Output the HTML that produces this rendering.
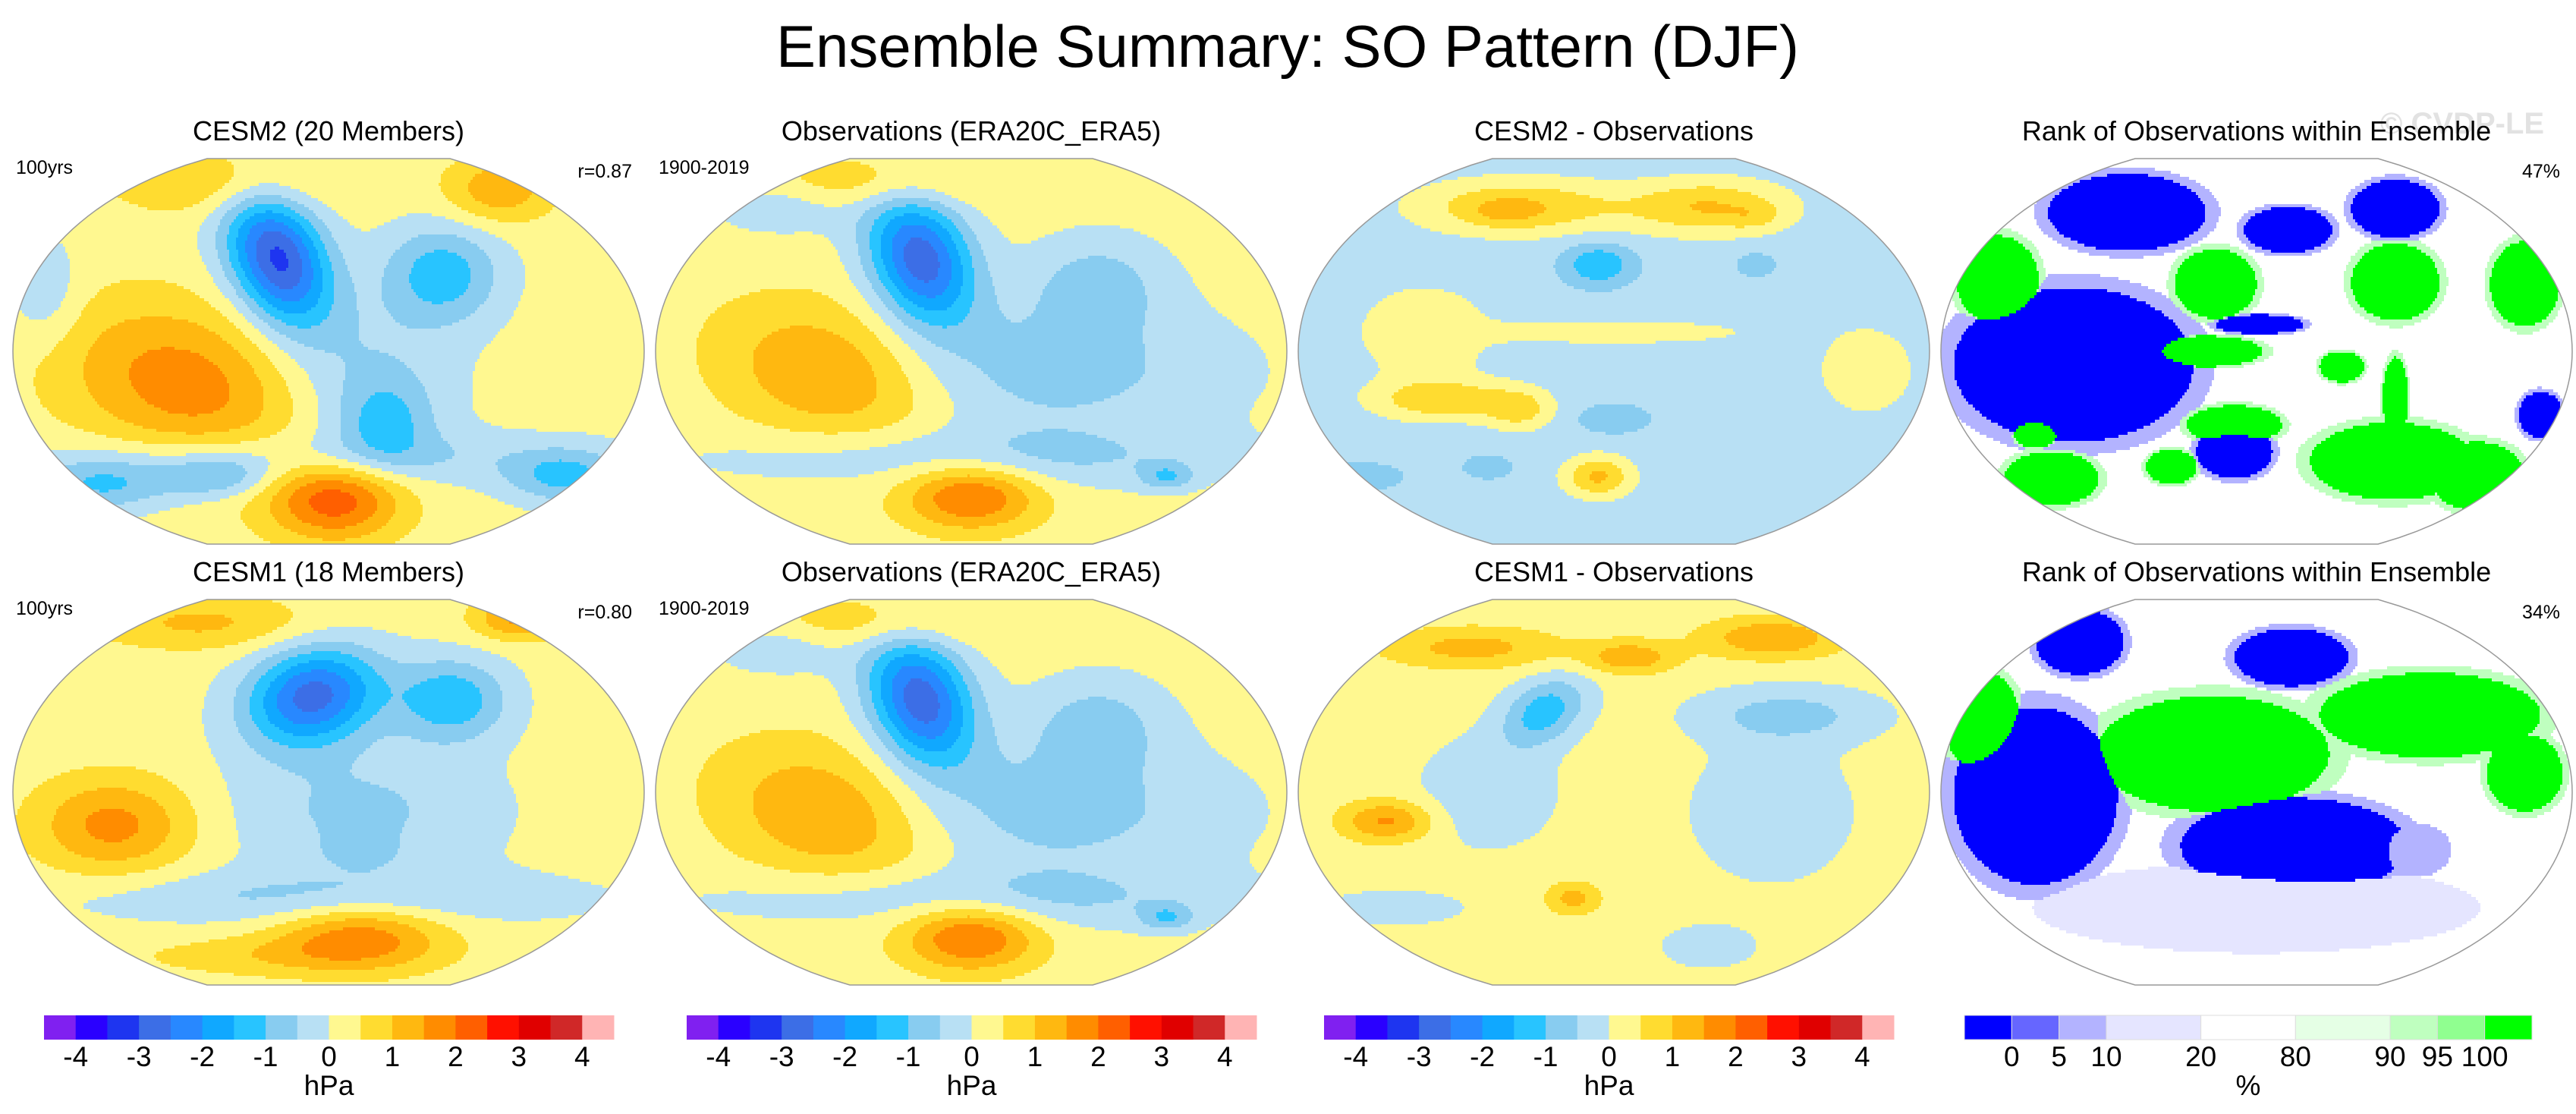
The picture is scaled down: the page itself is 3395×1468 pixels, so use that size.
<!DOCTYPE html>
<html><head><meta charset="utf-8">
<style>
html,body{margin:0;padding:0;background:#fff;}
svg{display:block;font-family:"Liberation Sans",sans-serif;}
</style></head>
<body>
<svg id="fig" width="3395" height="1468" viewBox="0 0 3395 1468" xmlns="http://www.w3.org/2000/svg">
<rect width="3395" height="1468" fill="#fff"/>
<text x="1697" y="88" font-size="78" text-anchor="middle" fill="#000">Ensemble Summary: SO Pattern (DJF)</text>
<text x="3245" y="176" font-size="40" font-weight="bold" text-anchor="middle" fill="#e2e2e2">© CVDP-LE</text>
<g id="maps"></g>
<g id="bars"></g>
</svg>
<script>
// ---- data ----
const divColors=["#8020f0","#2a00ff","#1e35f0","#3c6ee6","#2888ff","#10a8ff","#28c4ff","#88ccf0","#b8e0f4","#fff890","#ffdc30","#ffb810","#ff8c00","#ff5f00","#ff1000","#e00000","#d02828","#ffb4b4"];
const divTicks=["-4","-3","-2","-1","0","1","2","3","4"];
const rankColors=["#0000ff","#6666ff","#b3b3ff","#e5e5ff","#ffffff","#e5ffe5","#bfffbf","#90ff90","#00ff00"];
const rankTicks=["0","5","10","20","80","90","95","100"];
const rankWidths=[1,1,1,2,2,2,1,1,1];
const panelTitles=["CESM2 (20 Members)","Observations (ERA20C_ERA5)","CESM2 - Observations","Rank of Observations within Ensemble","CESM1 (18 Members)","Observations (ERA20C_ERA5)","CESM1 - Observations","Rank of Observations within Ensemble"];
const leftLabels=["100yrs","1900-2019","","","100yrs","1900-2019","",""];
const rightLabels=["r=0.87","","","47%","r=0.80","","","34%"];
const panelBase=[0.2,0.2,-0.3,null,0.2,0.2,0.2,null];
// anomaly centres: [u, v, rx, ry, rotation(deg), peak value hPa] in map projection space
const blobsCESM2=[[0,-.55,1.1,.2,0,-0.7],[.1,-.17,.42,.6,0,-0.8],[-.9,.31,.16,.4,0,-0.7],[-.35,.88,.47,.24,0,0.9],[.54,.84,.24,.24,0,1.2],[-.45,-.17,.58,.56,15,1.6],[-.16,.48,.21,.52,-25,-3.3],[.36,.40,.26,.36,0,-1.5],[.18,-.37,.2,.3,0,-1.0],[-.71,-.69,.32,.2,0,-1.3],[-.35,-.65,.24,.16,0,-1.2],[.75,-.65,.26,.2,0,-1.3],[.02,-.77,.3,.3,0,2.1]];
const blobsObs=[[.25,-.1,.8,.5,0,-0.9],[0,-.55,1.1,.22,0,-0.8],[-.6,.75,.3,.2,0,-0.6],[.4,.35,.3,.35,0,-0.9],[-.45,-.12,.5,.5,15,1.4],[-.3,.88,.5,.2,0,0.8],[-.16,.48,.22,.5,-25,-3.0],[0,-.75,.3,.25,0,1.9],[.62,-.65,.12,.1,0,-1.0]];
const blobsDiff2=[[-.3,.75,.45,.2,0,1.3],[.3,.75,.35,.2,0,1.3],[-.35,.72,.15,.1,0,0.4],[.45,.7,.12,.1,0,0.4],[0,.1,.55,.08,0,0.8],[-.6,.1,.3,.35,0,0.7],[.8,-.1,.2,.3,0,0.8],[-.55,-.25,.3,.15,0,1.2],[-.3,-.3,.15,.15,0,1.0],[-.05,-.65,.15,.15,0,1.4],[-.05,.45,.15,.15,0,-1.2],[.45,.45,.08,.08,0,-0.7],[0,-.35,.15,.1,0,-0.7],[-.4,-.6,.1,.08,0,-0.7],[-.8,-.65,.18,.1,0,-0.6]];
const blobsCESM1=[[0,-.55,1.1,.2,0,-0.8],[.1,-.1,.6,.5,0,-0.8],[-.4,.88,.5,.2,0,0.9],[.6,.9,.2,.15,0,1.4],[-.68,-.17,.35,.35,0,1.5],[-.05,.5,.3,.35,-15,-2.9],[.39,.48,.25,.3,0,-1.6],[.1,-.3,.15,.12,0,-0.5],[.1,-.74,.38,.25,0,1.6],[-.2,-.85,.6,.15,0,0.6]];
const blobsDiff1=[[-.4,0,.3,.4,0,-0.6],[.5,-.1,.35,.5,0,-0.6],[.3,-.8,.2,.15,0,-0.6],[-.7,-.6,.3,.12,0,-0.6],[-.45,.75,.4,.15,0,1.0],[.05,.7,.2,.12,0,1.2],[.5,.8,.3,.15,0,1.3],[.55,.4,.4,.2,0,-0.9],[-.22,.42,.2,.22,-30,-1.5],[-.72,-.15,.2,.15,0,1.4],[-.13,-.55,.12,.12,0,1.0]];
// rank patches: [u, v, rx, ry, category index]
const rank1=[[-.58,-.07,.38,.4,0],[-.41,.72,.25,.2,0],[.1,.63,.14,.12,0],[.44,.74,.14,.15,0],[-.07,-.52,.12,.14,0],[.01,.14,.14,.05,0],[.9,-.33,.07,.12,0],[-.82,.37,.13,.23,8],[-.13,.35,.13,.18,8],[-.16,0,.18,.08,8],[-.07,-.38,.15,.1,8],[.27,-.08,.07,.08,8],[.44,.36,.14,.2,8],[.85,.35,.11,.22,8],[.43,-.57,.26,.2,8],[.44,-.25,.04,.22,8],[-.65,-.66,.15,.14,8],[-.27,-.6,.08,.09,8],[-.7,-.43,.07,.07,8],[.7,-.65,.15,.18,8]];
const rank2=[[0,-.6,.6,.2,3],[-.14,.2,.37,.3,8],[-.87,.37,.12,.26,8],[.55,.4,.35,.22,8],[.85,.1,.12,.2,8],[-.7,-.02,.26,.46,0],[.12,-.28,.36,.25,0],[-.56,.78,.14,.17,0],[.11,.7,.18,.15,0],[.5,-.3,.1,.12,2]];
const panelData=[blobsCESM2,blobsObs,blobsDiff2,rank1,blobsCESM1,blobsObs,blobsDiff1,rank2];
// ---- layout ----
const colCX=[433,1280,2127,2974], rowCY=[463,1044], HW=416, HH=254, CUT=0.923;
const NS="http://www.w3.org/2000/svg";
function mk(tag,at,parent){const e=document.createElementNS(NS,tag);for(const k in at)e.setAttribute(k,at[k]);parent.appendChild(e);return e;}
function xs(cx,u){return cx+u*HW;}
function ys(cy,v){return cy-v*HH;}
function outline(cx,cy){
  const p=[];const N=60;
  for(let i=0;i<=N;i++){const v=-1+2*i/N;const w=Math.sqrt(1-(v*CUT)*(v*CUT));p.push([xs(cx,w),ys(cy,v)]);}
  for(let i=N;i>=0;i--){const v=-1+2*i/N;const w=Math.sqrt(1-(v*CUT)*(v*CUT));p.push([xs(cx,-w),ys(cy,v)]);}
  return "M"+p.map(q=>q[0].toFixed(1)+","+q[1].toFixed(1)).join("L")+"Z";}
function colorIndex(val){if(val>=0)return Math.min(17,9+Math.floor(val/0.5));return Math.max(0,8-Math.floor(-val/0.5));}
function dist2(b,u,v){const a=(b[4]||0)*Math.PI/180;const dx=(u-b[0])*HW,dy=-(v-b[1])*HH;
  const lx=dx*Math.cos(a)+dy*Math.sin(a), ly=-dx*Math.sin(a)+dy*Math.cos(a);
  return (lx/(b[2]*HW))**2+(ly/(b[3]*HH))**2;}
function fieldAt(p,u,v){let s=panelBase[p];for(const b of panelData[p])s+=b[5]*Math.exp(-2*dist2(b,u,v));return s;}
function rankAt(p,u,v){let best=4,bd=1e9;
  for(const b of panelData[p]){const d=Math.sqrt(dist2([b[0],b[1],b[2],b[3],0],u,v));
    if(d<1.18&&d<bd){bd=d;best=d<1?b[4]:(b[4]===0?2:(b[4]===8?6:b[4]));}}
  return best;}
const maps=document.getElementById('maps');
const defs=mk('defs',{},maps);
const CW=3, RH=4;
for(let p=0;p<8;p++){
  const cx=colCX[p%4], cy=rowCY[Math.floor(p/4)];
  const d=outline(cx,cy);
  const cp=mk('clipPath',{id:'clip'+p},defs);
  mk('path',{d:d},cp);
  const g=mk('g',{'clip-path':'url(#clip'+p+')'},maps);
  
  
  const isRank=panelBase[p]===null;
  const pal=isRank?rankColors:divColors;
  for(let y=cy-HH;y<cy+HH;y+=RH){
    const v=(cy-(y+RH/2))/HH;
    let runStart=null,runC=-1;
    for(let x=cx-HW;x<=cx+HW+CW;x+=CW){
      let c=-2;
      if(x<cx+HW){const u=(x+CW/2-cx)/HW;c=isRank?rankAt(p,u,v):colorIndex(fieldAt(p,u,v));}
      if(c!==runC){
        if(runC>=0){const r=mk('rect',{x:runStart,y:y,width:x-runStart+0.6,height:RH+0.6,fill:pal[runC]},g);
          
          }
        runStart=x;runC=c;}
    }
  }
  const o=mk('path',{d:d,fill:'none',stroke:'#999',"stroke-width":1.5},maps);
  
  
  const t=mk('text',{x:cx,y:cy-HH-24,"font-size":36,"text-anchor":"middle"},maps);
  t.textContent=panelTitles[p];
  
  
  if(leftLabels[p]){const l=mk('text',{x:cx-HW+4,y:cy-HH+20,"font-size":25},maps);l.textContent=leftLabels[p];
    
    }
  if(rightLabels[p]){const r=mk('text',{x:cx+HW-16,y:cy-HH+25,"font-size":25,"text-anchor":"end"},maps);r.textContent=rightLabels[p];
    
    }
}
// ---- colorbars ----
const bars=document.getElementById('bars');
const barY=1338, barH=32, barW=751;
const divBarX=[58,905,1745];
divBarX.forEach((bx0,bi)=>{
  const g=mk('g',{},bars);
  
  
  const w=barW/divColors.length;
  divColors.forEach((c,i)=>{const r=mk('rect',{x:bx0+i*w,y:barY,width:w+0.5,height:barH,fill:c},g);
    
    });
  divTicks.forEach((t,i)=>{const tx=mk('text',{x:bx0+(1+2*i)*w,y:1405,"font-size":37,"text-anchor":"middle"},g);tx.textContent=t;
    
    });
  const u=mk('text',{x:bx0+barW/2,y:1443,"font-size":37,"text-anchor":"middle"},g);u.textContent="hPa";
  
  
});
(function(){
  const bx0=2589, W=748, tot=rankWidths.reduce((a,b)=>a+b,0), unit=W/tot;
  const g=mk('g',{},bars);
  
  
  let x=bx0; const bounds=[];
  rankColors.forEach((c,i)=>{const r=mk('rect',{x:x,y:barY,width:rankWidths[i]*unit,height:barH,fill:c,stroke:'#ddd',"stroke-width":1},g);
    
    
    x+=rankWidths[i]*unit;bounds.push(x);});
  rankTicks.forEach((t,i)=>{const tx=mk('text',{x:bounds[i],y:1405,"font-size":37,"text-anchor":"middle"},g);tx.textContent=t;
    
    });
  const u=mk('text',{x:bx0+W/2,y:1443,"font-size":37,"text-anchor":"middle"},g);u.textContent="%";
  
  
})();
</script>
</body></html>
